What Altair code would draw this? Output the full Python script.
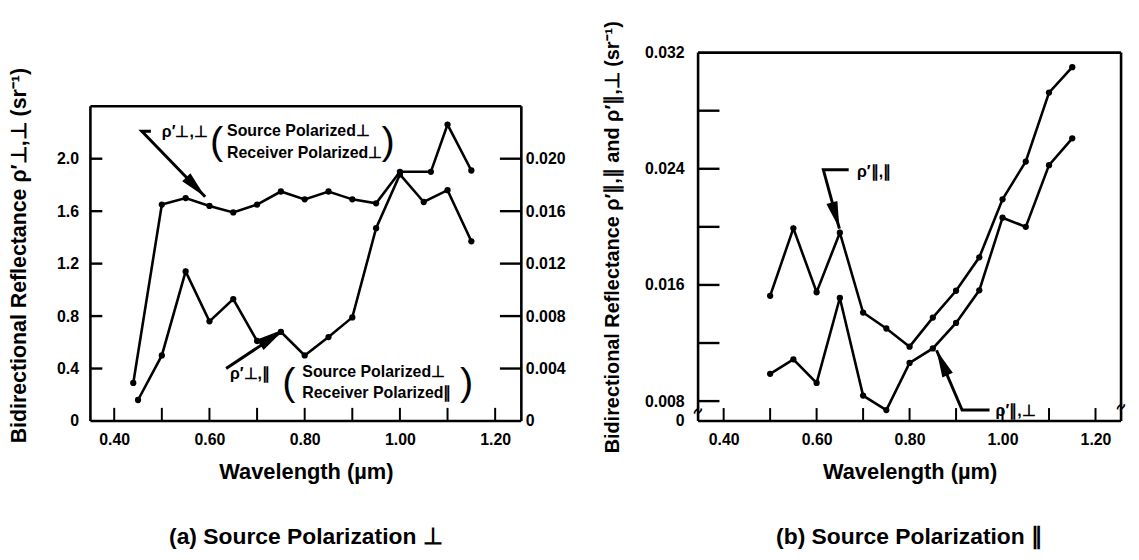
import altair as alt
import pandas as pd

FONT = "Liberation Sans"

# ---------------- panel (a) data ----------------
wl_pp = [0.44, 0.50, 0.55, 0.60, 0.65, 0.70, 0.75, 0.80, 0.85, 0.90, 0.95, 1.00, 1.065, 1.10, 1.15]
rho_pp = [0.29, 1.65, 1.70, 1.64, 1.59, 1.65, 1.75, 1.69, 1.75, 1.69, 1.66, 1.90, 1.90, 2.26, 1.91]

wl_pl = [0.45, 0.50, 0.55, 0.60, 0.65, 0.70, 0.75, 0.80, 0.85, 0.90, 0.95, 1.00, 1.05, 1.10, 1.15]
rho_pl = [0.0016, 0.0050, 0.0114, 0.0076, 0.0093, 0.0061, 0.0068, 0.0050, 0.0064, 0.0079,
          0.0147, 0.0188, 0.0167, 0.0176, 0.0137]

# ---------------- panel (b) data ----------------
wl_b = [0.50, 0.55, 0.60, 0.65, 0.70, 0.75, 0.80, 0.85, 0.90, 0.95, 1.00, 1.05, 1.10, 1.15]
rho_ll = [0.01525, 0.0199, 0.0155, 0.0196, 0.0141, 0.0130, 0.01175, 0.01375, 0.0156, 0.0179,
          0.0219, 0.0245, 0.02925, 0.0310]
rho_lp = [0.00988, 0.01088, 0.00925, 0.0151, 0.00838, 0.00738, 0.01063, 0.01163, 0.01338,
          0.01563, 0.02063, 0.0200, 0.02425, 0.0261]

# axis tick values / labels
x_ticks_minor = [0.40, 0.50, 0.60, 0.70, 0.80, 0.90, 1.00, 1.10, 1.20]
x_labels = [0.40, 0.60, 0.80, 1.00, 1.20]
ya_left_labels = [0, 0.4, 0.8, 1.2, 1.6, 2.0]
ya_right_labels = [0, 0.004, 0.008, 0.012, 0.016, 0.020]
ya_ticks = [0.4, 0.8, 1.2, 1.6, 2.0]
yb_labels = [0.00663, 0.008, 0.016, 0.024, 0.032]
yb_ticks = [0.008, 0.012, 0.016, 0.020, 0.024, 0.028]

# domains
XA = [0.35, 1.255]
YA_FRAME = 2.4
YA = [0, 2.809]
YA_R = [0, 0.02809]
XB = [0.345, 1.255]
YB = [0.00663, 0.032]

H = 371
WA = 434
WB = 426
LW = 2.6
PT = 40

arrow_path = "M0,0L0.42,2L-0.42,2Z"
HEAD = 750

# ================= panel (a) =================
xa_scale = alt.Scale(domain=XA, nice=False, zero=False)
x_a = alt.X("x:Q", scale=xa_scale,
            axis=alt.Axis(values=x_labels, format=".2f", ticks=False, domain=False, grid=False,
                          labelPadding=11, title="Wavelength (µm)", titlePadding=14,
                          titleFontSize=22))
y_a = alt.Y("y:Q", scale=alt.Scale(domain=YA, nice=False, zero=False),
            axis=alt.Axis(values=ya_left_labels,
                          labelExpr="datum.value == 0 ? '0' : format(datum.value, '.1f')",
                          ticks=False, domain=False, grid=False, labelPadding=12,
                          title="Bidirectional Reflectance ρ′⊥,⊥ (sr⁻¹)", titleFontSize=21.5,
                          titlePadding=26, titleY=204))

df_pp = pd.DataFrame({"x": wl_pp, "y": rho_pp})
line_pp = alt.Chart(df_pp).mark_line(color="black", strokeWidth=LW).encode(x=x_a, y=y_a)
pts_pp = alt.Chart(df_pp).mark_point(filled=True, color="black", size=PT, opacity=1).encode(x=x_a, y=y_a)

frame_a = pd.DataFrame({
    "x": [XA[0], XA[0], XA[0], XA[1]],
    "x2": [XA[1], XA[1], XA[0], XA[1]],
    "y": [0, YA_FRAME, 0, 0],
    "y2": [0, YA_FRAME, YA_FRAME, YA_FRAME],
})
frame_a_ch = alt.Chart(frame_a).mark_rule(color="black", strokeWidth=LW).encode(
    x=x_a, x2="x2:Q", y=y_a, y2="y2:Q")

xt_a = pd.DataFrame({"x": x_ticks_minor, "y": [0] * len(x_ticks_minor), "y2": [0.10] * len(x_ticks_minor)})
xt_a_ch = alt.Chart(xt_a).mark_rule(color="black", strokeWidth=2).encode(x=x_a, y=y_a, y2="y2:Q")
yt_a = pd.DataFrame({"y": ya_ticks * 2,
                     "x": [XA[0]] * 5 + [1.21] * 5,
                     "x2": [0.375] * 5 + [XA[1]] * 5})
yt_a_ch = alt.Chart(yt_a).mark_rule(color="black", strokeWidth=2.4).encode(x=x_a, x2="x2:Q", y=y_a)

# annotations (a)
ann_a_txt = pd.DataFrame({
    "x": [0.50, 0.637, 0.637, 0.643, 0.795, 0.795],
    "y": [2.20, 2.21, 2.04, 0.36, 0.375, 0.21],
    "t": ["ρ′⊥,⊥", "Source Polarized⊥", "Receiver Polarized⊥", "ρ′⊥,∥",
          "Source Polarized⊥", "Receiver Polarized∥"],
})
ann_a_txt_ch = alt.Chart(ann_a_txt).mark_text(align="left", baseline="middle", font=FONT,
                                              fontWeight="bold", fontSize=16, color="black").encode(
    x=x_a, y=y_a, text="t:N")
par_a = pd.DataFrame({"x": [0.615, 0.975, 0.767, 1.14], "y": [2.125, 2.125, 0.29, 0.29],
                      "t": ["(", ")", "(", ")"]})
par_a_ch = alt.Chart(par_a).mark_text(align="center", baseline="middle", font=FONT,
                                      fontSize=40, color="black").encode(x=x_a, y=y_a, text="t:N")
arr_a = pd.DataFrame({
    "x": [0.477, 0.458, 0.591, 0.635, 0.755],
    "y": [2.21, 2.21, 1.71, 0.40, 0.69],
    "seg": ["a", "a", "a", "b", "b"],
    "o": [0, 1, 2, 0, 1],
})
arr_a_ch = alt.Chart(arr_a).mark_line(color="black", strokeWidth=3).encode(
    x=x_a, y=y_a, detail="seg:N", order="o:Q")
head_a1 = alt.Chart(pd.DataFrame({"x": [0.591], "y": [1.71]})).mark_point(
    shape=arrow_path, filled=True, color="black", size=HEAD, angle=136, opacity=1).encode(x=x_a, y=y_a)
head_a2 = alt.Chart(pd.DataFrame({"x": [0.755], "y": [0.69]})).mark_point(
    shape=arrow_path, filled=True, color="black", size=HEAD, angle=57, opacity=1).encode(x=x_a, y=y_a)

left_group = alt.layer(frame_a_ch, xt_a_ch, yt_a_ch, line_pp, pts_pp, arr_a_ch, head_a1, head_a2,
                       ann_a_txt_ch, par_a_ch)

y_a_r = alt.Y("y:Q", scale=alt.Scale(domain=YA_R, nice=False, zero=False),
              axis=alt.Axis(orient="right", values=ya_right_labels,
                            labelExpr="datum.value == 0 ? '0' : format(datum.value, '.3f')",
                            ticks=False, domain=False, grid=False, labelPadding=4, title=""))
df_pl = pd.DataFrame({"x": wl_pl, "y": rho_pl})
line_pl = alt.Chart(df_pl).mark_line(color="black", strokeWidth=LW).encode(x=x_a, y=y_a_r)
pts_pl = alt.Chart(df_pl).mark_point(filled=True, color="black", size=PT, opacity=1).encode(x=x_a, y=y_a_r)
right_group = alt.layer(line_pl, pts_pl)

panel_a = alt.layer(left_group, right_group).resolve_scale(y="independent").properties(
    width=WA, height=H,
    title=alt.TitleParams("(a) Source Polarization ⊥", orient="bottom", anchor="middle",
                          frame="group", offset=44))

# ================= panel (b) =================
x_b = alt.X("x:Q", scale=alt.Scale(domain=XB, nice=False, zero=False),
            axis=alt.Axis(values=x_labels, format=".2f", ticks=False, domain=False, grid=False,
                          labelPadding=11, title="Wavelength (µm)", titlePadding=14,
                          titleFontSize=22))
y_b = alt.Y("y:Q", scale=alt.Scale(domain=YB, nice=False, zero=False),
            axis=alt.Axis(values=yb_labels,
                          labelExpr="datum.value < 0.007 ? '0' : format(datum.value, '.3f')",
                          ticks=False, domain=False, grid=False, labelPadding=14,
                          title="Bidirectional Reflectance ρ′∥,∥ and ρ′∥,⊥ (sr⁻¹)",
                          titlePadding=22))

df_ll = pd.DataFrame({"x": wl_b, "y": rho_ll})
df_lp = pd.DataFrame({"x": wl_b, "y": rho_lp})
line_ll = alt.Chart(df_ll).mark_line(color="black", strokeWidth=LW).encode(x=x_b, y=y_b)
pts_ll = alt.Chart(df_ll).mark_point(filled=True, color="black", size=PT, opacity=1).encode(x=x_b, y=y_b)
line_lp = alt.Chart(df_lp).mark_line(color="black", strokeWidth=LW).encode(x=x_b, y=y_b)
pts_lp = alt.Chart(df_lp).mark_point(filled=True, color="black", size=PT, opacity=1).encode(x=x_b, y=y_b)

frame_b = pd.DataFrame({
    "x": [XB[0], XB[0], XB[0], XB[1]],
    "x2": [XB[1], XB[1], XB[0], XB[1]],
    "y": [YB[0], YB[1], YB[0], YB[0]],
    "y2": [YB[0], YB[1], YB[1], YB[1]],
})
frame_b_ch = alt.Chart(frame_b).mark_rule(color="black", strokeWidth=LW).encode(
    x=x_b, x2="x2:Q", y=y_b, y2="y2:Q")
xt_b = pd.DataFrame({"x": x_ticks_minor, "y": [YB[0]] * len(x_ticks_minor),
                     "y2": [0.00752] * len(x_ticks_minor)})
xt_b_ch = alt.Chart(xt_b).mark_rule(color="black", strokeWidth=2).encode(x=x_b, y=y_b, y2="y2:Q")
yt_b = pd.DataFrame({"y": yb_ticks, "x": [XB[0]] * len(yb_ticks), "x2": [0.391] * len(yb_ticks)})
yt_b_ch = alt.Chart(yt_b).mark_rule(color="black", strokeWidth=2.4).encode(x=x_b, x2="x2:Q", y=y_b)

brk_b = pd.DataFrame({"x": [XB[0], XB[1]], "y": [0.0073, 0.0076], "t": ["≈", "≈"]})
brk_b_ch = alt.Chart(brk_b).mark_text(font=FONT, fontSize=16, fontWeight="bold", angle=300,
                                      color="black").encode(x=x_b, y=y_b, text="t:N")

ann_b_txt = pd.DataFrame({"x": [0.687, 0.985], "y": [0.02375, 0.00733], "t": ["ρ′∥,∥", "ρ′∥,⊥"]})
ann_b_txt_ch = alt.Chart(ann_b_txt).mark_text(align="left", baseline="middle", font=FONT,
                                              fontWeight="bold", fontSize=16, color="black").encode(
    x=x_b, y=y_b, text="t:N")
arr_b = pd.DataFrame({
    "x": [0.669, 0.6145, 0.649, 0.972, 0.913, 0.858],
    "y": [0.02393, 0.02393, 0.01988, 0.00738, 0.00738, 0.0115],
    "seg": ["a", "a", "a", "b", "b", "b"],
    "o": [0, 1, 2, 0, 1, 2],
})
arr_b_ch = alt.Chart(arr_b).mark_line(color="black", strokeWidth=3).encode(
    x=x_b, y=y_b, detail="seg:N", order="o:Q")
head_b1 = alt.Chart(pd.DataFrame({"x": [0.649], "y": [0.01988]})).mark_point(
    shape=arrow_path, filled=True, color="black", size=HEAD, angle=164, opacity=1).encode(x=x_b, y=y_b)
head_b2 = alt.Chart(pd.DataFrame({"x": [0.858], "y": [0.0115]})).mark_point(
    shape=arrow_path, filled=True, color="black", size=HEAD, angle=336, opacity=1).encode(x=x_b, y=y_b)

panel_b = alt.layer(frame_b_ch, xt_b_ch, yt_b_ch, line_ll, pts_ll, line_lp, pts_lp, arr_b_ch,
                    head_b1, head_b2, ann_b_txt_ch, brk_b_ch).properties(
    width=WB, height=H,
    title=alt.TitleParams("(b) Source Polarization ∥", orient="bottom", anchor="middle",
                          frame="group", offset=44))

chart = alt.hconcat(panel_a, panel_b, spacing=36).properties(
    padding={"left": 0, "top": 10, "right": 0, "bottom": 0}
).configure_view(strokeWidth=0).configure_axis(
    labelFont=FONT, titleFont=FONT, labelFontWeight="bold", titleFontWeight="bold",
    labelColor="black", titleColor="black", labelFontSize=16, titleFontSize=20
).configure_title(font=FONT, fontSize=23, fontWeight="bold", color="black")

chart.save("out.html", embed_options={"renderer": "svg", "actions": False})
